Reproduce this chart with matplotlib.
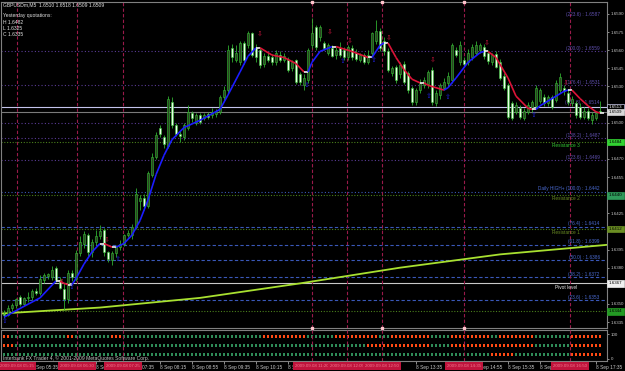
import numpy as np
import matplotlib
matplotlib.use("Agg")
import matplotlib.pyplot as plt
from matplotlib.collections import LineCollection
from matplotlib.transforms import blended_transform_factory

plt.rcParams["font.family"] = ["Liberation Sans", "DejaVu Sans"]
plt.rcParams["font.size"] = 3.6

# ---- GBPUSDm M5 candles ----
opens = [
    1.6341, 1.6341, 1.6347, 1.6349, 1.6356, 1.6350, 1.6355, 1.6356, 1.6361, 1.6359,
    1.6370, 1.6373, 1.6372, 1.6380, 1.6370, 1.6362, 1.6354, 1.6376, 1.6371, 1.6392,
    1.6400, 1.6407, 1.6393, 1.6401, 1.6406, 1.6411, 1.6393, 1.6386, 1.6392, 1.6397,
    1.6400, 1.6407, 1.6407, 1.6414, 1.6435, 1.6438, 1.6431, 1.6457, 1.6472, 1.6496,
    1.6488, 1.6481, 1.6517, 1.6498, 1.6491, 1.6488, 1.6496, 1.6508, 1.6500, 1.6506,
    1.6504, 1.6507, 1.6506, 1.6507, 1.6509, 1.6521, 1.6527, 1.6562, 1.6552, 1.6550,
    1.6566, 1.6564, 1.6574, 1.6562, 1.6560, 1.6549, 1.6555, 1.6554, 1.6550, 1.6556,
    1.6552, 1.6552, 1.6545, 1.6552, 1.6540, 1.6531, 1.6535, 1.6564, 1.6579, 1.6571,
    1.6566, 1.6558, 1.6562, 1.6556, 1.6562, 1.6560, 1.6554, 1.6562, 1.6558, 1.6552,
    1.6556, 1.6550, 1.6558, 1.6568, 1.6576, 1.6568, 1.6559, 1.6541, 1.6546, 1.6540,
    1.6549, 1.6541, 1.6529, 1.6517, 1.6527, 1.6531, 1.6532, 1.6544, 1.6516, 1.6523,
    1.6529, 1.6533, 1.6535, 1.6560, 1.6550, 1.6552, 1.6550, 1.6554, 1.6558, 1.6560,
    1.6563, 1.6558, 1.6550, 1.6557, 1.6550, 1.6539, 1.6531, 1.6516, 1.6509, 1.6512,
    1.6504, 1.6509, 1.6511, 1.6514, 1.6518, 1.6521, 1.6516, 1.6521, 1.6519, 1.6527,
    1.6529, 1.6525, 1.6516, 1.6516, 1.6513, 1.6505, 1.6510, 1.6502, 1.6504, 1.6510,
]
highs = [
    1.6345, 1.6349, 1.6351, 1.6355, 1.6357, 1.6356, 1.6360, 1.6362, 1.6363, 1.6374,
    1.6376, 1.6376, 1.6381, 1.6381, 1.6372, 1.6367, 1.6378, 1.6378, 1.6395, 1.6406,
    1.6410, 1.6409, 1.6404, 1.6411, 1.6415, 1.6413, 1.6394, 1.6394, 1.6399, 1.6403,
    1.6408, 1.6411, 1.6416, 1.6446, 1.6440, 1.6441, 1.6460, 1.6475, 1.6492, 1.6498,
    1.6490, 1.6522, 1.6521, 1.6500, 1.6493, 1.6500, 1.6515, 1.6510, 1.6508, 1.6508,
    1.6508, 1.6509, 1.6512, 1.6511, 1.6523, 1.6530, 1.6564, 1.6565, 1.6564, 1.6568,
    1.6568, 1.6576, 1.6575, 1.6565, 1.6563, 1.6558, 1.6558, 1.6557, 1.6560, 1.6559,
    1.6558, 1.6554, 1.6552, 1.6553, 1.6542, 1.6540, 1.6562, 1.6587, 1.6581, 1.6581,
    1.6568, 1.6566, 1.6564, 1.6563, 1.6567, 1.6563, 1.6564, 1.6564, 1.6561, 1.6558,
    1.6558, 1.6560, 1.6575, 1.6585, 1.6578, 1.6571, 1.6562, 1.6547, 1.6548, 1.6550,
    1.6551, 1.6543, 1.6530, 1.6529, 1.6536, 1.6538, 1.6544, 1.6546, 1.6527, 1.6533,
    1.6537, 1.6542, 1.6566, 1.6563, 1.6568, 1.6554, 1.6561, 1.6565, 1.6568, 1.6566,
    1.6565, 1.6560, 1.6558, 1.6559, 1.6553, 1.6541, 1.6533, 1.6518, 1.6517, 1.6515,
    1.6512, 1.6517, 1.6519, 1.6531, 1.6529, 1.6524, 1.6523, 1.6523, 1.6535, 1.6541,
    1.6531, 1.6528, 1.6522, 1.6518, 1.6516, 1.6513, 1.6512, 1.6509, 1.6510, 1.6518,
]
lows = [
    1.6338, 1.6340, 1.6344, 1.6347, 1.6348, 1.6348, 1.6352, 1.6353, 1.6357, 1.6357,
    1.6367, 1.6371, 1.6370, 1.6368, 1.6362, 1.6345, 1.6351, 1.6369, 1.6369, 1.6390,
    1.6396, 1.6390, 1.6389, 1.6399, 1.6404, 1.6390, 1.6385, 1.6382, 1.6389, 1.6395,
    1.6398, 1.6405, 1.6404, 1.6412, 1.6428, 1.6428, 1.6429, 1.6455, 1.6470, 1.6488,
    1.6479, 1.6479, 1.6496, 1.6489, 1.6484, 1.6486, 1.6494, 1.6501, 1.6498, 1.6499,
    1.6502, 1.6503, 1.6504, 1.6505, 1.6507, 1.6519, 1.6525, 1.6550, 1.6550, 1.6548,
    1.6549, 1.6562, 1.6554, 1.6550, 1.6545, 1.6546, 1.6550, 1.6548, 1.6548, 1.6550,
    1.6550, 1.6542, 1.6543, 1.6532, 1.6531, 1.6527, 1.6533, 1.6562, 1.6560, 1.6568,
    1.6560, 1.6556, 1.6554, 1.6553, 1.6554, 1.6552, 1.6552, 1.6552, 1.6551, 1.6550,
    1.6549, 1.6549, 1.6555, 1.6565, 1.6559, 1.6556, 1.6542, 1.6539, 1.6533, 1.6537,
    1.6532, 1.6525, 1.6515, 1.6515, 1.6525, 1.6529, 1.6529, 1.6515, 1.6514, 1.6520,
    1.6527, 1.6530, 1.6533, 1.6554, 1.6548, 1.6546, 1.6548, 1.6552, 1.6556, 1.6558,
    1.6553, 1.6549, 1.6548, 1.6545, 1.6535, 1.6527, 1.6503, 1.6502, 1.6507, 1.6503,
    1.6502, 1.6507, 1.6509, 1.6512, 1.6516, 1.6514, 1.6514, 1.6511, 1.6517, 1.6525,
    1.6523, 1.6515, 1.6514, 1.6504, 1.6503, 1.6503, 1.6502, 1.6499, 1.6502, 1.6509,
]
closes = [
    1.6341, 1.6347, 1.6349, 1.6354, 1.6350, 1.6355, 1.6356, 1.6361, 1.6359, 1.6371,
    1.6374, 1.6375, 1.6378, 1.6370, 1.6363, 1.6354, 1.6376, 1.6372, 1.6392, 1.6401,
    1.6408, 1.6393, 1.6401, 1.6406, 1.6410, 1.6393, 1.6387, 1.6392, 1.6397, 1.6400,
    1.6407, 1.6409, 1.6414, 1.6441, 1.6438, 1.6431, 1.6458, 1.6472, 1.6490, 1.6491,
    1.6482, 1.6520, 1.6498, 1.6491, 1.6489, 1.6498, 1.6509, 1.6504, 1.6506, 1.6501,
    1.6506, 1.6505, 1.6509, 1.6509, 1.6521, 1.6527, 1.6560, 1.6554, 1.6558, 1.6566,
    1.6552, 1.6574, 1.6556, 1.6554, 1.6548, 1.6555, 1.6552, 1.6550, 1.6558, 1.6552,
    1.6555, 1.6544, 1.6550, 1.6534, 1.6534, 1.6537, 1.6560, 1.6574, 1.6563, 1.6579,
    1.6562, 1.6564, 1.6555, 1.6560, 1.6556, 1.6554, 1.6563, 1.6554, 1.6553, 1.6556,
    1.6550, 1.6556, 1.6574, 1.6576, 1.6562, 1.6559, 1.6544, 1.6545, 1.6535, 1.6548,
    1.6534, 1.6527, 1.6517, 1.6527, 1.6533, 1.6535, 1.6542, 1.6517, 1.6525, 1.6531,
    1.6534, 1.6539, 1.6564, 1.6556, 1.6564, 1.6549, 1.6558, 1.6563, 1.6564, 1.6564,
    1.6555, 1.6551, 1.6556, 1.6546, 1.6537, 1.6529, 1.6505, 1.6504, 1.6515, 1.6505,
    1.6510, 1.6515, 1.6517, 1.6529, 1.6527, 1.6516, 1.6521, 1.6513, 1.6533, 1.6538,
    1.6526, 1.6517, 1.6520, 1.6506, 1.6505, 1.6510, 1.6504, 1.6506, 1.6508, 1.6509,
]

# fast MA (colour follows slope), knots at bar index
ma_idx = [0, 5, 9, 13, 14, 15, 16, 17, 18, 20, 22, 24, 25, 27, 28, 30, 32, 34, 36, 38,
          40, 42, 45, 49, 54, 56, 59, 61, 63, 64, 67, 70, 73, 75, 76, 77, 79, 82, 83, 87,
          91, 92, 93, 94, 95, 96, 98, 100, 102, 104, 105, 106, 110, 111, 113, 116, 119, 120, 121, 123,
          126, 128, 131, 132, 133, 134, 137, 140, 141, 142, 144, 146, 148, 149, 150]
ma_val = [1.6339, 1.6348, 1.6355, 1.6369, 1.6369, 1.6367, 1.6366, 1.6366, 1.6371, 1.6383,
          1.6393, 1.6400, 1.6400, 1.6397, 1.6397, 1.6400, 1.6407, 1.6419, 1.6436, 1.6457,
          1.6473, 1.6486, 1.6496, 1.6502, 1.6511, 1.6523, 1.6542, 1.6555, 1.6562, 1.6562,
          1.6556, 1.6554, 1.6549, 1.6542, 1.6542, 1.6550, 1.6559, 1.6563, 1.6563, 1.6559,
          1.6554, 1.6554, 1.6559, 1.6564, 1.6566, 1.6566, 1.6554, 1.6544, 1.6536, 1.6533,
          1.6533, 1.6531, 1.6527, 1.6529, 1.6537, 1.6550, 1.6558, 1.6559, 1.6559, 1.6554,
          1.6537, 1.6522, 1.6512, 1.6511, 1.6511, 1.6514, 1.6520, 1.6526, 1.6527, 1.6527,
          1.6520, 1.6514, 1.6509, 1.6508, 1.6508]

# slow MA
slow_idx = [-1, 24, 49, 74, 99, 124, 151]
slow_val = [1.6342, 1.6347, 1.6355, 1.6367, 1.6380, 1.6391, 1.6399]

# signal arrows
red_arrow_idx = [14.5, 25.75, 64, 81.5, 86.5, 96.25, 107.25, 120.75, 140.5]
red_arrow_price = [1.6368, 1.6403, 1.6574, 1.6575, 1.6568, 1.6570, 1.6552, 1.6566, 1.6533]
blue_arrow_idx = [0.25, 17, 28.5, 75.75, 84.75, 92.5, 106.25, 111, 132.5]
blue_arrow_price = [1.6336, 1.6364, 1.6387, 1.6531, 1.6551, 1.6552, 1.6522, 1.6521, 1.6506]

# fibo levels
fib_price = [1.6587, 1.6559, 1.6531, 1.6514, 1.6500, 1.6487, 1.6469,
             1.6443, 1.6414, 1.6399, 1.6386, 1.6372, 1.6353]
fib_label = ["(223.6) : 1.6587", "(200.0) : 1.6559", "(176.4) : 1.6531", "(161.8) : 1.6514", "",
             "(138.2) : 1.6487", "(123.6) : 1.6469", "Daily HIGH+ (100.0) : 1.6442",
             "(76.4) : 1.6414", "(61.8) : 1.6399", "(50.0) : 1.6386", "(38.2) : 1.6372",
             "(23.6) : 1.6353"]
fib_line = [False, True, True, False, True, True, True, True, True, True, True, True, True]

# pivot levels
pivot_price = [1.6484, 1.6440, 1.6412, 1.6367, 1.6344]
pivot_name = ["Resistance 3", "Resistance 2", "Resistance 1", "Pivot level", ""]

price_ticks = [1.6590, 1.6575, 1.6560, 1.6545, 1.6530, 1.6500, 1.6470, 1.6455,
               1.6425, 1.6395, 1.6380, 1.6350, 1.6335]

# vertical separators
vline_idx = [3.25, 18.25, 29.75, 77, 85.75, 94.5, 115, 141.5]
vline_text = ["2009.09.08 05:15", "2009.09.08 06:30", "2009.09.08 07:25", "2009.09.08 11:20",
              "2009.09.08 12:05", "2009.09.08 12:50", "2009.09.08 14:35", "2009.09.08 16:50"]
vline_dot_idx = [77, 94.5, 115]

# time labels that are not hidden under the separator boxes
time_ticks = [7, 23, 31, 39, 47, 55, 63, 71, 103, 118, 126, 134, 148]
time_labels = ["8 Sep 05:35", "8 Sep 06:55", "8 Sep 07:35", "8 Sep 08:15", "8 Sep 08:55",
               "8 Sep 09:35", "8 Sep 10:15", "8 Sep 10:55", "8 Sep 13:35", "8 Sep 14:55",
               "8 Sep 15:35", "8 Sep 16:15", "8 Sep 17:35"]

# indicator rows: (state, first bar, last bar)
row1 = [("r", 0, 1), ("g", 2, 15), ("r", 16, 17), ("g", 18, 26), ("r", 27, 29), ("g", 30, 64),
        ("r", 65, 75), ("g", 76, 82), ("r", 83, 93), ("g", 94, 96), ("r", 97, 106),
        ("g", 107, 111), ("r", 112, 121), ("g", 122, 123), ("r", 124, 132), ("g", 133, 141),
        ("r", 142, 149)]
row2 = [("r", 0, 2), ("g", 3, 90), ("r", 91, 106), ("g", 107, 111), ("r", 112, 132),
        ("g", 133, 141), ("r", 142, 149)]
row3 = [("g", 0, 121), ("r", 122, 127), ("g", 128, 141), ("r", 142, 149)]

W, H = 625, 371
GRAY = "#808080"
TXT = "#c8c8c8"


def rect(x0, y0, x1, y1):
    return [x0 / W, 1 - y1 / H, (x1 - x0) / W, (y1 - y0) / H]


fig = plt.figure(figsize=(6.25, 3.71), dpi=100, facecolor="black")
ax = fig.add_axes(rect(1, 2, 607, 328), facecolor="black")
ind = fig.add_axes(rect(1, 330, 607, 361), facecolor="black")

for a in (ax, ind):
    a.set_xlim(-0.75, 150.75)
    for s in a.spines.values():
        s.set_color(GRAY)
        s.set_linewidth(0.8)
ax.set_ylim(1.633007, 1.659993)

ytr = ax.get_yaxis_transform()
xtr = blended_transform_factory(ax.transData, ax.transAxes)

# horizontal levels
for p, lbl, drawn in zip(fib_price, fib_label, fib_line):
    upper = p > 1.6445
    col = "#5a3c96" if upper else "#3a58b8"
    if drawn:
        ls = (0, (1, 2)) if p > 1.644 else (0, (3, 2))
        ax.axhline(p, color=col, lw=0.8, ls=ls, zorder=1)
    if lbl:
        ax.text(0.988, p + 0.00003, lbl, transform=ytr, ha="right", va="bottom",
                color="#6050b0" if upper else "#4a6ad0", fontsize=3.4, zorder=2)

for p, name in zip(pivot_price, pivot_name):
    if name == "Pivot level":
        ax.axhline(p, color="#c8c8c8", lw=0.8, zorder=1)
        tcol = "#e8e8e8"
    else:
        ax.axhline(p, color="#4a7f1c", lw=0.8, ls=(0, (1, 1.5)), zorder=1)
        tcol = "#33cc33" if name == "Resistance 3" else "#6b8e23"
    if name:
        ax.text(0.932, p - 0.0001, name, transform=ytr, ha="center", va="top",
                color=tcol, fontsize=3.4, zorder=2)

ax.axhline(1.6513, color="#c4c4ec", lw=0.8, zorder=1)
ax.axhline(1.6509, color="#7a7a7a", lw=0.8, zorder=1)

ax.plot(slow_idx, slow_val, color="#a8e030", lw=1.3, zorder=2)

# candles
x = np.arange(len(opens))
o = np.array(opens)
c = np.array(closes)
bull = c > o
ax.vlines(x, lows, highs, color="#2fae2f", lw=0.6, zorder=3)
body_low = np.minimum(o, c)
body_h = np.maximum(np.abs(c - o), 0.00004)
ax.bar(x[bull], body_h[bull], bottom=body_low[bull], width=0.62, color="#2c4422",
       edgecolor="#34c034", lw=0.4, zorder=4)
ax.bar(x[~bull], body_h[~bull], bottom=body_low[~bull], width=0.62, color="#eaffe6",
       edgecolor="#34c034", lw=0.4, zorder=4)

# fast MA coloured by slope
mv = np.array(ma_val)
segs, cols = [], []
for k in range(len(ma_idx) - 1):
    segs.append([(ma_idx[k], mv[k]), (ma_idx[k + 1], mv[k + 1])])
    d = mv[k + 1] - mv[k]
    cols.append("#1c1cff" if d > 1e-7 else ("#dc1438" if d < -1e-7 else "#f0f0f0"))
ax.add_collection(LineCollection(segs, colors=cols, linewidths=1.2, zorder=5))

for xi, p in zip(red_arrow_idx, red_arrow_price):
    ax.text(xi, p, "\u21e9", color="#c8143c", fontsize=5, ha="center", va="center",
            family=["DejaVu Sans"], zorder=6)
for xi, p in zip(blue_arrow_idx, blue_arrow_price):
    ax.text(xi, p, "\u21e7", color="#2020e0", fontsize=5, ha="center", va="center",
            family=["DejaVu Sans"], zorder=6)

# separators
for v in vline_idx:
    ax.axvline(v, color="#9a1a4a", lw=0.8, ls=(0, (3, 2)), zorder=1.5)
    ind.axvline(v, color="#9a1a4a", lw=0.8, ls=(0, (3, 2)), zorder=3)
for yy in (1.0, 0.0):
    ax.plot(vline_dot_idx, [yy] * len(vline_dot_idx), transform=xtr, ls="none", marker="s",
            ms=1.5, color="#ffc4cc", clip_on=False, zorder=12)

# right price scale
ax.yaxis.tick_right()
ax.set_yticks(price_ticks)
ax.set_yticklabels([f"{p:.4f}" for p in price_ticks])
ax.tick_params(axis="y", colors=TXT, labelsize=3.2, length=1.5, width=0.5, pad=1)
ax.set_xticks([])

tags = [(1.6513, "#000000", "#d0d0f0", "#ffffff"), (1.6509, "#d8d8d8", "#d8d8d8", "#000000"),
        (1.6484, "#32d232", "#32d232", "#000000"), (1.6440, "#2e9a5a", "#2e9a5a", "#000000"),
        (1.6412, "#6b8e23", "#6b8e23", "#000000"), (1.6367, "#f0f0f0", "#f0f0f0", "#000000"),
        (1.6344, "#239a23", "#239a23", "#000000")]
for p, fc, ec, tc in tags:
    ax.annotate(f"{p:.4f}", xy=(1.0, p), xycoords=ytr, xytext=(1.2, 0),
                textcoords="offset points", ha="left", va="center", fontsize=3.2, color=tc,
                bbox=dict(boxstyle="square,pad=0.3", fc=fc, ec=ec, lw=0.5),
                annotation_clip=False, zorder=10)

# indicator panel
ind.set_ylim(-8, 116)
for row, yv in ((row1, 92), (row2, 56), (row3, 20)):
    colors = ["#2e8b57"] * len(opens)
    for state, a, b in row:
        for k in range(a, b + 1):
            colors[k] = "#ff4a14" if state == "r" else "#2e8b57"
    ind.bar(x, 12, bottom=yv - 6, width=0.72, color=colors, lw=0, zorder=2)

ind.yaxis.tick_right()
ind.set_yticks([100, 0])
ind.set_yticklabels(["100", "0"])
ind.tick_params(axis="y", colors=TXT, labelsize=3.2, length=1.5, width=0.5, pad=1)
ind.set_xticks(time_ticks)
ind.set_xticklabels(time_labels)
for lab in ind.get_xticklabels():
    lab.set_ha("left")
ind.tick_params(axis="x", colors=TXT, labelsize=3.4, length=2, width=0.5, pad=1)

ibt = blended_transform_factory(ind.transData, ind.transAxes)
for v, t in zip(vline_idx, vline_text):
    ind.text(v, -0.17, t, transform=ibt, ha="center", va="center", fontsize=3.2,
             color="#f07890", clip_on=False, zorder=10,
             bbox=dict(boxstyle="square,pad=0.45", fc="#c0143c", ec="none"))

# header / footer text
def px(xp, yp):
    return xp / W, 1 - yp / H

header = ["GBPUSDm,M5  1.6510 1.6518 1.6509 1.6509", "Yesterday quotations:",
          "H 1.6482", "L 1.6325", "C 1.6335"]
header_y = [5, 16, 22, 28, 34]
for t, yp in zip(header, header_y):
    fig.text(*px(3, yp), t, color="#e0e0e0", fontsize=3.6, va="center", ha="left")
fig.text(*px(3, 358), "Interbank FX Trader 4, \u00a9 2001-2009 MetaQuotes Software Corp.",
         color=TXT, fontsize=3.6, va="center", ha="left")

fig.savefig("out.png", dpi=100, facecolor="black")
